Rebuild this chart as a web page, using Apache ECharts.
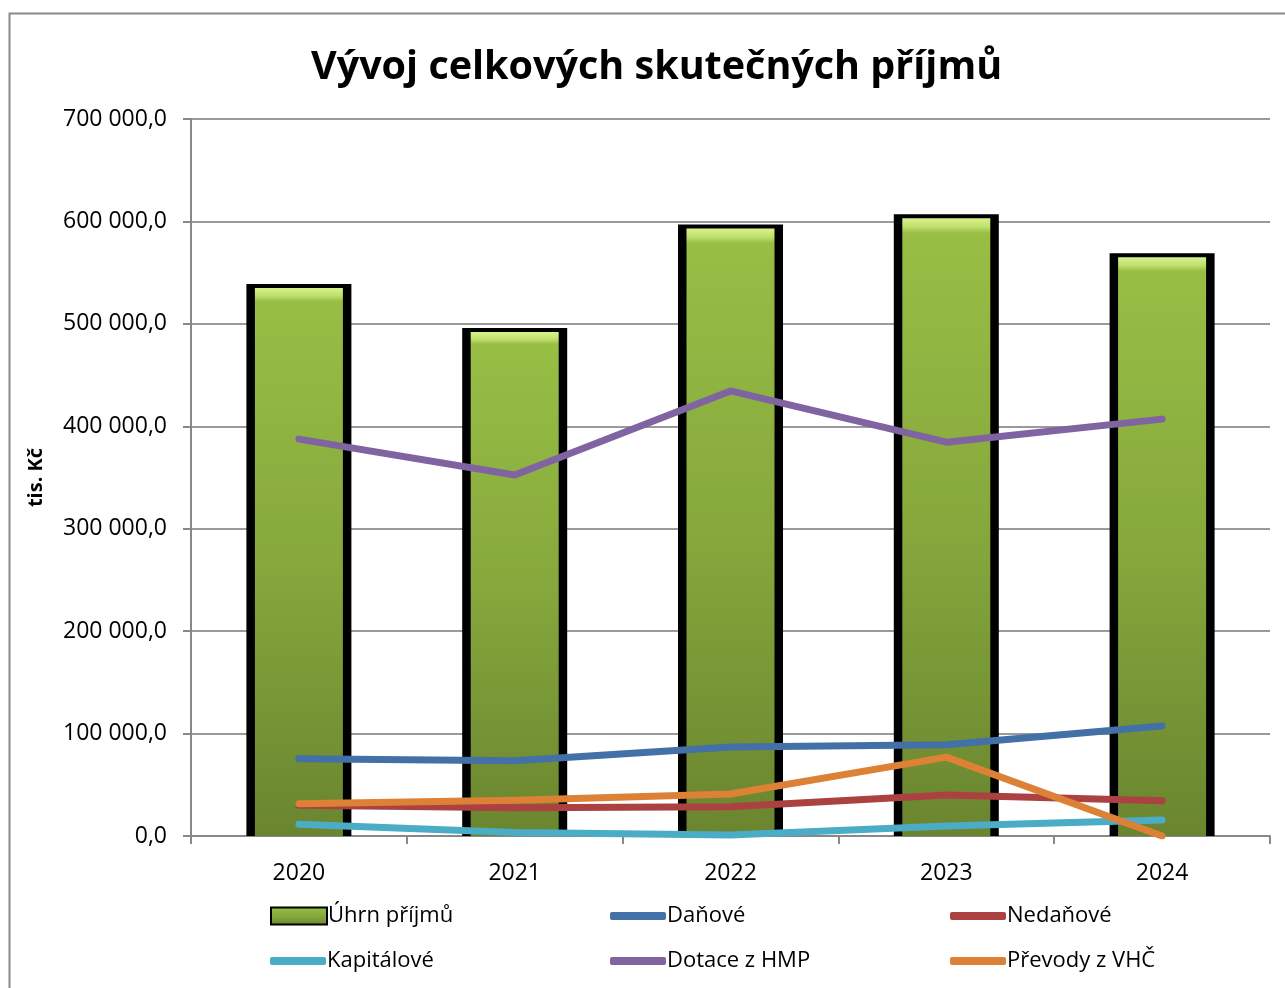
<!DOCTYPE html>
<html>
<head>
<meta charset="utf-8">
<script src="https://cdn.jsdelivr.net/npm/echarts@6/dist/echarts.min.js"></script>
<style>
  html, body { margin: 0; padding: 0; background: #fff; }
  #chart { width: 1285px; height: 988px; }
</style>
</head>
<body>
<div id="chart"></div>
<script>
// data (tis. Kč)
const years = ['2020', '2021', '2022', '2023', '2024'];
const uhrn = [539000, 496000, 597000, 607000, 569000];
const danove = [75500, 73500, 87000, 89000, 107500];
const nedanove = [30000, 27500, 28500, 40000, 34500];
const kapitalove = [11500, 3500, 1000, 9800, 15600];
const dotace = [387500, 352500, 434500, 384500, 407000];
const prevody = [31500, 35000, 41000, 77000, 0];

const fontFamily = '"Open Sans", "Noto Sans", sans-serif';

const fmt = v => {
	let s = Math.round(v).toString().replace(/\B(?=(\d{3})+(?!\d))/g, ' ');
	return s + ',0';
};

const barColor = new echarts.graphic.LinearGradient(0, 0, 0, 1, [
	{ offset: 0, color: '#d8f28c' },
	{ offset: 0.014, color: '#bfe06c' },
	{ offset: 0.024, color: '#98be45' },
	{ offset: 0.5, color: '#86a83c' },
	{ offset: 1, color: '#6a852f' }
]);

const lineSeries = (name, data, color) => ({
	name: name,
	type: 'line',
	data: data,
	showSymbol: false,
	symbol: 'none',
	z: 5,
	lineStyle: { width: 7, color: color, cap: 'round', join: 'round' },
	itemStyle: { color: color }
});

const legendItem = (name, left, top, isBar) => {
	let item = {
		data: [name],
		left: left,
		top: top,
		itemWidth: 56,
		itemHeight: isBar ? 17 : 8,
		itemGap: 0,
		icon: isBar ? 'rect' : 'roundRect',
		selectedMode: false,
		padding: 0,
		textStyle: { fontFamily: fontFamily, fontSize: 22, color: '#000', lineHeight: 30, padding: [0, 0, 0, -4] }
	};
	if (isBar) item.itemStyle = { borderColor: '#000', borderWidth: 2 };
	return item;
};

const chart = echarts.init(document.getElementById('chart'));
chart.setOption({
	animation: false,
	backgroundColor: '#fff',
	title: {
		text: 'Vývoj celkových skutečných příjmů',
		left: 306,
		top: 43,
		textStyle: { fontFamily: fontFamily, fontSize: 39.5, fontWeight: 'bold', color: '#000' }
	},
	graphic: [{
		type: 'rect',
		shape: { x: 9.5, y: 13.5, width: 1300, height: 1000 },
		style: { fill: 'none', stroke: '#8a8a8a', lineWidth: 2 },
		silent: true
	}],
	legend: [
		legendItem('Úhrn příjmů', 270, 901, true),
		legendItem('Daňové', 610, 901, false),
		legendItem('Nedaňové', 950, 901, false),
		legendItem('Kapitálové', 270, 946, false),
		legendItem('Dotace z HMP', 610, 946, false),
		legendItem('Převody z VHČ', 950, 946, false)
	],
	grid: { left: 191, right: 15, top: 119, bottom: 152 },
	xAxis: [{
		type: 'category',
		data: years,
		axisLine: { lineStyle: { color: '#888', width: 2 } },
		axisTick: { show: true, length: 8, lineStyle: { color: '#888', width: 2 } },
		axisLabel: { fontFamily: fontFamily, fontSize: 23, color: '#000', margin: 26 }
	}, {
		// hidden twin axis so the black backing bar is centred on its own
		type: 'category',
		data: years,
		show: false
	}],
	yAxis: {
		type: 'value',
		min: 0,
		max: 700000,
		interval: 100000,
		name: 'tis. Kč',
		nameLocation: 'middle',
		nameGap: 145,
		nameRotate: 90,
		nameTextStyle: { fontFamily: fontFamily, fontSize: 20, fontWeight: 'bold', color: '#000' },
		axisLine: { show: true, lineStyle: { color: '#888', width: 2 } },
		axisTick: { show: true, length: 8, lineStyle: { color: '#888', width: 2 } },
		splitLine: { lineStyle: { color: '#9a9a9a', width: 2 } },
		axisLabel: { fontFamily: fontFamily, fontSize: 23, color: '#000', margin: 24, formatter: fmt }
	},
	series: [
		{
			name: 'Úhrn příjmů',
			type: 'bar',
			xAxisIndex: 0,
			data: uhrn.map(v => v - 4000),
			barWidth: 88,
			z: 3,
			itemStyle: { color: barColor }
		},
		{
			name: 'frame',
			type: 'bar',
			xAxisIndex: 1,
			data: uhrn,
			barWidth: 105,
			z: 2,
			silent: true,
			itemStyle: { color: '#000' }
		},
		lineSeries('Daňové', danove, '#4470a8'),
		lineSeries('Nedaňové', nedanove, '#ab4241'),
		lineSeries('Kapitálové', kapitalove, '#4bacc6'),
		lineSeries('Dotace z HMP', dotace, '#8064a2'),
		lineSeries('Převody z VHČ', prevody, '#dd8137')
	]
});
</script>
</body>
</html>
